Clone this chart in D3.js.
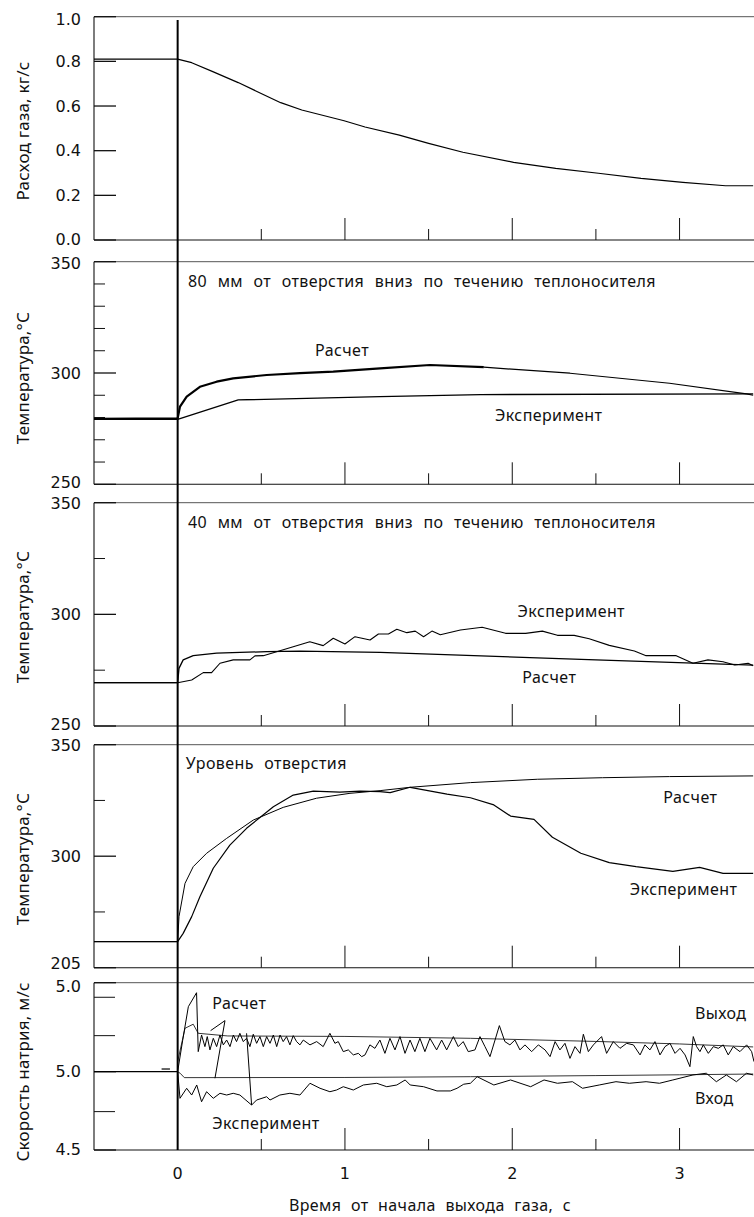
<!DOCTYPE html>
<html><head><meta charset="utf-8">
<script src="https://cdn.jsdelivr.net/npm/d3@7"></script>
<style>
body{margin:0;background:#fff;}
text{font-family:"Noto Sans","DejaVu Sans",sans-serif;fill:#111;}
text.tick{font-family:"DejaVu Sans",sans-serif;}
</style></head>
<body><svg id="c" width="754" height="1217"></svg>
<script>
// ---------------- DATA ----------------
const xTicks = [0.5, 1, 1.5, 2, 2.5, 3];
const xTickLabels = ["0", "1", "2", "3"];
const xTickLabelValues = [0, 1, 2, 3];

// Panel 1: gas flow, kg/s
const gasFlow = [[-0.5,0.81],[0,0.81],[0.084,0.794],[0.21,0.754],[0.362,0.705],[0.616,0.615],[0.742,0.582],[0.995,0.534],[1.12,0.506],[1.325,0.470],[1.50,0.433],[1.705,0.393],[2.008,0.348],[2.26,0.321],[2.515,0.299],[2.77,0.276],[3.02,0.258],[3.275,0.243],[3.44,0.243]];
const p1TickValues = [0, 0.2, 0.4, 0.6, 0.8, 1.0];
const p1TickLabels = ["0.0","0.2","0.4","0.6","0.8","1.0"];

// Panel 2: 80 mm downstream
const p2Calc = [[-0.5,279.4],[0,279.6],[0.014,284.9],[0.054,289.4],[0.133,293.8],[0.233,296.1],[0.332,297.6],[0.532,299.1],[0.731,299.9],[0.93,300.6],[1.21,302.1],[1.508,303.6],[1.83,302.6]];
const p2CalcSmooth = [[1.83,302.6],[2.345,299.9],[2.94,295.4],[3.40,290.6],[3.44,290.0]];
const p2Exp = [[-0.5,279.2],[0,279.2],[0.362,287.9],[1.21,289.4],[1.81,290.3],[3.44,290.6]];
const p2TickLabelValues = [250, 300, 350];
const p2TickLabels = ["250","300","350"];
const p2MinorTicks = [260,270,280,290,310,320,330,340];

// Panel 3: 40 mm downstream
const p3Calc = [[-0.5,269.4],[0,269.4],[0.008,275.8],[0.033,279.6],[0.093,281.5],[0.233,282.6],[0.532,283.3],[0.73,283.5],[1.21,283.0],[2.5,279.6],[3.44,277.3]];
const p3Exp = [[-0.5,269.4],[0,269.4],[0.084,270.6],[0.153,273.9],[0.203,273.9],[0.253,278.1],[0.332,279.6],[0.432,279.6],[0.462,281.4],[0.512,281.5],[0.79,287.7],[0.87,286.0],[0.93,289.3],[1.0,286.7],[1.06,290.0],[1.15,288.5],[1.2,291.2],[1.26,291.2],[1.31,293.3],[1.37,291.8],[1.42,292.5],[1.47,290.0],[1.52,292.5],[1.57,290.9],[1.69,293.0],[1.82,294.2],[1.96,291.5],[2.08,291.5],[2.18,292.5],[2.27,290.6],[2.37,290.6],[2.46,289.1],[2.58,286.1],[2.73,283.6],[2.80,281.5],[2.98,281.5],[3.08,278.1],[3.17,279.6],[3.26,278.8],[3.33,277.3],[3.41,278.1],[3.44,277.0]];
const p3TickLabelValues = [250, 300, 350];
const p3TickLabels = ["250","300","350"];
const p3MinorTicks = [275, 325];

// Panel 4: hole level
const p4Calc = [[-0.5,261.7],[0,261.7],[0.008,272.9],[0.044,287.8],[0.093,295.3],[0.173,301.3],[0.293,308.0],[0.452,316.2],[0.631,321.9],[0.83,326.0],[1.03,328.2],[1.21,329.4],[1.39,330.9],[1.75,333.0],[2.15,334.5],[2.54,335.2],[2.94,335.7],[3.44,336.0]];
const p4Exp = [[-0.5,261.7],[0,261.7],[0.033,265.4],[0.084,272.9],[0.133,281.8],[0.213,294.6],[0.312,305.0],[0.412,312.5],[0.572,322.2],[0.691,327.4],[0.811,329.2],[0.97,328.7],[1.09,329.2],[1.21,329.0],[1.27,328.5],[1.39,330.9],[1.61,327.8],[1.75,326.2],[1.89,323.0],[1.99,318.0],[2.13,316.5],[2.24,308.5],[2.41,301.3],[2.58,297.1],[2.74,295.3],[2.96,293.2],[3.12,295.0],[3.26,292.3],[3.44,292.3]];
const p4TickLabelValues = [250, 300, 350];
const p4TickLabels = ["205","300","350"];
const p4MinorTicks = [275, 325];

// Panel 5: sodium velocity
const p5Base = [[-0.5,5.0],[0,5.0]];
const p5PreMark = [[-0.096,5.017],[-0.046,5.017]];
const p5CalcOut = [[0,5.064],[0.044,5.277],[0.093,5.303],[0.123,5.245],[0.3,5.228],[1.0,5.225],[1.75,5.213],[2.5,5.193],[3.0,5.177],[3.44,5.158]];
const p5CalcIn = [[0,5.0],[0.015,4.99],[0.04,4.962],[1.0,4.963],[1.75,4.968],[2.5,4.975],[3.0,4.980],[3.44,4.985]];
const p5ExpOut = [[0,5.0],[0.03,5.2],[0.064,5.415],[0.113,5.504],[0.123,5.128],[0.143,5.234],[0.163,5.160],[0.177,5.224],[0.193,5.139],[0.213,5.213],[0.233,5.160],[0.253,5.234],[0.273,5.171],[0.293,5.202],[0.313,5.160],[0.333,5.234],[0.352,5.192],[0.372,5.245],[0.392,5.192],[0.412,5.213],[0.432,5.160],[0.452,5.239],[0.472,5.181],[0.492,5.224],[0.512,5.160],[0.532,5.224],[0.552,5.181],[0.572,5.234],[0.592,5.160],[0.612,5.234],[0.631,5.192],[0.651,5.224],[0.671,5.171],[0.691,5.230],[0.711,5.192],[0.731,5.171],[0.751,5.202],[0.791,5.171],[0.831,5.192],[0.870,5.160],[0.910,5.245],[0.940,5.181],[0.960,5.192],[0.990,5.128],[1.020,5.139],[1.050,5.107],[1.080,5.117],[1.100,5.096],[1.120,5.107],[1.149,5.171],[1.179,5.149],[1.209,5.202],[1.239,5.117],[1.269,5.213],[1.299,5.139],[1.329,5.224],[1.359,5.117],[1.389,5.202],[1.418,5.128],[1.448,5.213],[1.478,5.128],[1.508,5.213],[1.548,5.139],[1.578,5.202],[1.608,5.139],[1.648,5.224],[1.677,5.160],[1.707,5.192],[1.737,5.128],[1.777,5.139],[1.807,5.224],[1.837,5.160],[1.867,5.096],[1.897,5.202],[1.923,5.294],[1.956,5.192],[1.986,5.171],[2.016,5.202],[2.046,5.139],[2.076,5.171],[2.116,5.128],[2.156,5.171],[2.196,5.139],[2.226,5.096],[2.256,5.192],[2.285,5.139],[2.315,5.181],[2.345,5.085],[2.375,5.160],[2.405,5.117],[2.425,5.239],[2.455,5.128],[2.485,5.171],[2.534,5.224],[2.564,5.117],[2.604,5.192],[2.644,5.149],[2.684,5.181],[2.724,5.171],[2.764,5.107],[2.793,5.171],[2.823,5.139],[2.853,5.192],[2.883,5.107],[2.913,5.160],[2.943,5.181],[2.973,5.117],[3.003,5.149],[3.033,5.107],[3.062,5.032],[3.082,5.224],[3.102,5.160],[3.122,5.128],[3.142,5.171],[3.172,5.117],[3.202,5.160],[3.232,5.149],[3.261,5.171],[3.291,5.107],[3.321,5.160],[3.361,5.128],[3.401,5.171],[3.431,5.128],[3.445,5.064]];
const p5ExpIn = [[0,5.0],[0.014,4.830],[0.054,4.894],[0.084,4.851],[0.114,4.915],[0.143,4.808],[0.173,4.872],[0.213,4.830],[0.253,4.862],[0.293,4.851],[0.332,4.862],[0.372,4.851],[0.442,4.787],[0.472,4.819],[0.532,4.840],[0.552,4.819],[0.611,4.851],[0.671,4.862],[0.731,4.851],[0.791,4.926],[0.851,4.894],[0.910,4.872],[0.950,4.883],[0.990,4.904],[1.05,4.883],[1.11,4.915],[1.19,4.926],[1.25,4.904],[1.31,4.915],[1.36,4.947],[1.39,4.915],[1.47,4.904],[1.55,4.877],[1.63,4.877],[1.67,4.894],[1.71,4.920],[1.75,4.926],[1.79,4.968],[1.89,4.915],[1.99,4.947],[2.11,4.904],[2.19,4.947],[2.27,4.926],[2.36,4.936],[2.42,4.894],[2.52,4.915],[2.62,4.936],[2.70,4.926],[2.80,4.936],[2.88,4.926],[2.96,4.947],[3.08,4.979],[3.16,4.990],[3.22,4.936],[3.28,4.979],[3.34,4.936],[3.40,4.990],[3.44,4.979]];
const p5Jump1 = [[0.197,5.262],[0.283,5.326],[0.223,4.958]];
const p5Jump2 = [[0.412,5.245],[0.442,4.787]];
const p5TickLabelValues = [4.5, 5.0, 5.568];
const p5TickLabels = ["4.5","5.0","5.0"];
const p5MinorTicks = [4.745, 5.23, 5.475];

// ---------------- DRAW ----------------
const svg = d3.select("#c");
const W = 754;
const x = d3.scaleLinear().domain([-0.5, 3.5]).range([94, 763.2]);
const line = s => d3.line().x(d => x(d[0])).y(d => s(d[1]));

// labShift: small vertical nudges of the tick-label text (style), per label index
const panels = [
  {top:16.7, bottom:240, domain:[0,1], title:"Расход газа, кг/с", tcy:131,
   labVals:p1TickValues, labs:p1TickLabels, labShift:[-1,0,0,0,0,3], minor:[], minorLen:22},
  {top:261.7, bottom:484.3, domain:[250,350], title:"Температура,°С", tcy:378,
   labVals:p2TickLabelValues, labs:p2TickLabels, labShift:[-1.5,0,1.5], minor:p2MinorTicks, minorLen:11},
  {top:502.7, bottom:726, domain:[250,350], title:"Температура,°С", tcy:617,
   labVals:p3TickLabelValues, labs:p3TickLabels, labShift:[-2,0,1], minor:p3MinorTicks, minorLen:11},
  {top:744.7, bottom:967.7, domain:[250,350], title:"Температура,°С", tcy:859,
   labVals:p4TickLabelValues, labs:p4TickLabels, labShift:[-4,0,1], minor:p4MinorTicks, minorLen:11},
  {top:982.7, bottom:1150, domain:[4.5,5.568], title:"Скорость натрия, м/с", tcy:1072,
   labVals:p5TickLabelValues, labs:p5TickLabels, labShift:[-1,0,4], minor:p5MinorTicks, minorLen:21}
];
panels.forEach(p => { p.y = d3.scaleLinear().domain(p.domain).range([p.bottom, p.top]); });

const g = svg.append("g");
panels.forEach(p => {
  const gp = g.append("g");
  gp.append("line").attr("x1",94).attr("x2",W).attr("y1",p.top).attr("y2",p.top).attr("stroke","#555").attr("stroke-width",1);
  gp.append("line").attr("x1",94).attr("x2",W).attr("y1",p.bottom).attr("y2",p.bottom).attr("stroke","#111").attr("stroke-width",1.1);
  gp.append("line").attr("x1",94).attr("x2",94).attr("y1",p.top).attr("y2",p.bottom).attr("stroke","#111").attr("stroke-width",1.1);
  p.labVals.forEach((v,i) => {
    gp.append("line").attr("x1",94).attr("x2",116).attr("y1",p.y(v)).attr("y2",p.y(v)).attr("stroke","#111").attr("stroke-width",1.3);
    gp.append("text").attr("class","tick").attr("x",81).attr("y",p.y(v)+p.labShift[i]).attr("text-anchor","end").attr("dominant-baseline","central")
      .attr("font-size",16).text(p.labs[i]);
  });
  p.minor.forEach(v => {
    gp.append("line").attr("x1",94).attr("x2",94+p.minorLen).attr("y1",p.y(v)).attr("y2",p.y(v)).attr("stroke","#111").attr("stroke-width",1);
  });
  xTicks.forEach(t => {
    const len = Number.isInteger(t) ? 22 : 11;
    gp.append("line").attr("x1",x(t)).attr("x2",x(t)).attr("y1",p.bottom).attr("y2",p.bottom-len).attr("stroke","#111").attr("stroke-width",1);
  });
  gp.append("text").attr("transform",`translate(22,${p.tcy}) rotate(-90)`).attr("text-anchor","middle")
    .attr("dominant-baseline","central").attr("font-size",17).attr("letter-spacing",0.2).text(p.title);
});

svg.append("defs").append("clipPath").attr("id","clip").append("rect").attr("x",94).attr("y",0).attr("width",W-94).attr("height",1217);
const dg = svg.append("g").attr("clip-path","url(#clip)").attr("fill","none").attr("stroke","#000").attr("stroke-linejoin","round");
function draw(data, p, w){ dg.append("path").datum(data).attr("d", line(p.y)).attr("stroke-width", w||1.1); }

const [P1,P2,P3,P4,P5] = panels;
draw(gasFlow, P1, 1.2);
draw(p2Calc, P2, 2.2);
draw(p2CalcSmooth, P2, 1.2);
draw(p2Exp, P2, 1.3);
draw(p3Calc, P3, 1.3);
draw(p3Exp, P3, 1.1);
draw(p4Calc, P4, 1.0);
draw(p4Exp, P4, 1.2);
draw(p5Base, P5, 1.2);
draw(p5PreMark, P5, 1.2);
draw(p5CalcOut, P5, 0.8);
draw(p5CalcIn, P5, 0.8);
draw(p5ExpOut, P5, 1.0);
draw(p5ExpIn, P5, 1.0);
draw(p5Jump1, P5, 1.0);
draw(p5Jump2, P5, 1.0);

svg.append("line").attr("x1",x(0)).attr("x2",x(0)).attr("y1",20).attr("y2",P5.bottom).attr("stroke","#000").attr("stroke-width",2);

function note(p, t, v, txt){
  svg.append("text").attr("x",x(t)).attr("y",p.y(v)).attr("dominant-baseline","central").attr("font-size",16)
    .attr("letter-spacing",0.4).attr("word-spacing",6).text(txt);
}
note(P2, 0.062, 341.5, "80 мм от отверстия вниз по течению теплоносителя");
note(P2, 0.821, 310.3, "Расчет");
note(P2, 1.897, 281.1, "Эксперимент");
note(P3, 0.062, 341.2, "40 мм от отверстия вниз по течению теплоносителя");
note(P3, 2.032, 301.6, "Эксперимент");
note(P3, 2.06, 272.1, "Расчет");
note(P4, 0.048, 341.7, "Уровень отверстия");
note(P4, 2.903, 326.7, "Расчет");
note(P4, 2.703, 285.2, "Эксперимент");
note(P5, 0.207, 5.437, "Расчет");
note(P5, 0.207, 4.670, "Эксперимент");
note(P5, 3.092, 5.373, "Выход");
note(P5, 3.092, 4.830, "Вход");

xTickLabelValues.forEach((t,i) => {
  svg.append("text").attr("class","tick").attr("x",x(t)).attr("y",1173.5).attr("text-anchor","middle").attr("dominant-baseline","central").attr("font-size",16).text(xTickLabels[i]);
});
svg.append("text").attr("x",430).attr("y",1205).attr("text-anchor","middle").attr("dominant-baseline","central").attr("font-size",16)
  .attr("letter-spacing",0.4).attr("word-spacing",5).text("Время от начала выхода газа, с");
</script></body></html>
